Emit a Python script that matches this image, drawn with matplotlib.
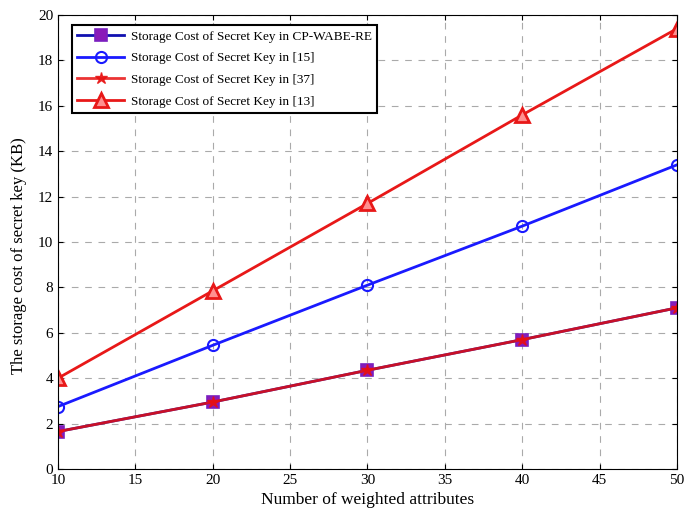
import matplotlib.pyplot as plt

plt.rcParams['font.family'] = ['Liberation Serif', 'DejaVu Serif']

attrs = [10, 20, 30, 40, 50]
ours = [1.65, 2.95, 4.35, 5.7, 7.1]
ref15 = [2.75, 5.45, 8.1, 10.7, 13.4]
ref37 = [1.65, 2.95, 4.35, 5.7, 7.1]
ref13 = [4.0, 7.85, 11.7, 15.6, 19.4]

fig = plt.figure(figsize=(6.88, 5.18), dpi=100)
ax = fig.add_axes([0.0843, 0.0946, 0.8997, 0.8764])

ax.plot(attrs, ours, color='#1010b0', linewidth=2, marker='s', markersize=9,
        markerfacecolor='#8a1ab8', markeredgecolor='#7a20c0', markeredgewidth=1.2,
        label='Storage Cost of Secret Key in CP-WABE-RE')
ax.plot(attrs, ref15, color='#1a1aff', linewidth=2, marker='o', markersize=8,
        markerfacecolor='none', markeredgewidth=1.5,
        label='Storage Cost of Secret Key in [15]')
ax.plot(attrs, ref37, color='#e81010', linewidth=2, marker='*', markersize=9,
        alpha=0.85, label='Storage Cost of Secret Key in [37]')
ax.plot(attrs, ref13, color='#e81818', linewidth=2, marker='^', markersize=10,
        markerfacecolor='#ff9090', markeredgewidth=2,
        label='Storage Cost of Secret Key in [13]')

ax.set_xlim(10, 50)
ax.set_ylim(0, 20)
ax.set_xticks(range(10, 51, 5))
ax.set_yticks(range(0, 21, 2))
ax.tick_params(direction='in', top=True, right=True, labelsize=11)
ax.grid(True, linestyle=(0, (6, 6)), color='#aaaaaa', linewidth=0.8)
ax.set_xlabel('Number of weighted attributes', fontsize=12.5)
ax.set_ylabel('The storage cost of secret key (KB)', fontsize=12)
ax.yaxis.set_label_coords(-0.05, 0.47)

leg = ax.legend(loc='upper left', bbox_to_anchor=(0.022, 0.978), borderaxespad=0,
                fontsize=9.5, fancybox=False, edgecolor='black', framealpha=1,
                handlelength=3.6, handletextpad=0.5, labelspacing=0.72)
leg.get_frame().set_linewidth(1.5)

fig.savefig('out.png', dpi=100)
